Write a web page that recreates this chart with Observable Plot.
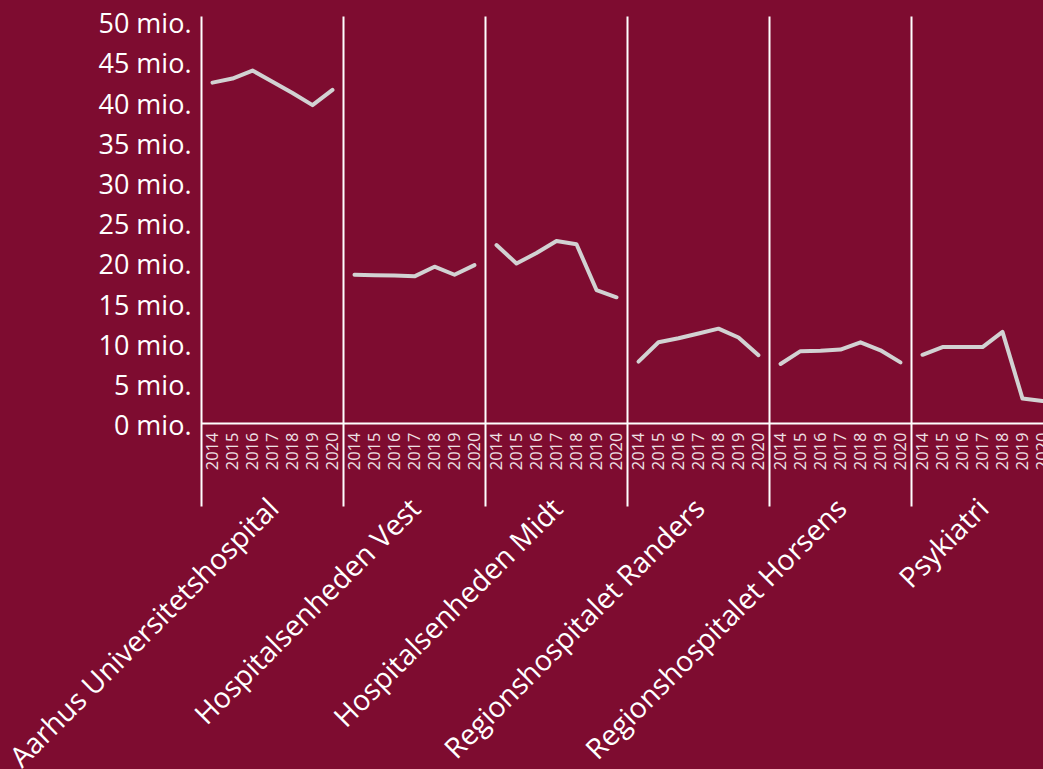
<!DOCTYPE html>
<html><head><meta charset="utf-8">
<script src="https://cdn.jsdelivr.net/npm/d3@7"></script>
<script src="https://cdn.jsdelivr.net/npm/@observablehq/plot@0.6"></script>
<style>
html,body{margin:0;padding:0;background:#7e0c30;overflow:hidden;}
#chart svg{display:block;max-width:none !important;}
</style></head><body><div id="chart"></div>
<script>
const hospitals = ["Aarhus Universitetshospital","Hospitalsenheden Vest","Hospitalsenheden Midt","Regionshospitalet Randers","Regionshospitalet Horsens","Psykiatri"];
const years = ["2014","2015","2016","2017","2018","2019","2020"];
const aarhus = [42.4, 42.9, 43.9, 42.5, 41.1, 39.6, 41.5];
const vest = [18.5, 18.45, 18.4, 18.3, 19.5, 18.5, 19.7];
const midt = [22.2, 19.9, 21.2, 22.7, 22.3, 16.6, 15.7];
const randers = [7.7, 10.1, 10.6, 11.2, 11.8, 10.7, 8.5];
const horsens = [7.4, 9.0, 9.05, 9.2, 10.1, 9.1, 7.6];
const psykiatri = [8.55, 9.5, 9.5, 9.5, 11.4, 3.1, 2.8];
const yTicks = [0, 5, 10, 15, 20, 25, 30, 35, 40, 45, 50];

const series = [aarhus, vest, midt, randers, horsens, psykiatri];
const data = hospitals.flatMap((h, i) => years.map((yr, j) => ({hospital: h, year: yr, value: series[i][j]})));

const chart = Plot.plot({
  width: 1053, height: 790,
  marginLeft: 201, marginRight: 0, marginTop: 21, marginBottom: 367,
  style: {background: "#7e0c30", color: "white", fontFamily: "'Open Sans', sans-serif", overflow: "visible", maxWidth: "none"},
  fx: {domain: hospitals, padding: 0, axis: null, label: null},
  x: {type: "point", domain: years, padding: 0, insetLeft: 9, insetRight: 10, axis: null, label: null},
  y: {domain: [0, 50], axis: null, label: null},
  marks: [
    Plot.axisY({ticks: yTicks, tickSize: 0, tickPadding: 10, tickFormat: d => `${d} mio.`, fontSize: 27, dy: 3, fill: "white", label: null}),
    Plot.axisX({tickRotate: -90, tickSize: 0, tickPadding: 9, fontSize: 16.5, fill: "#eee0e4", label: null}),
    Plot.frame({anchor: "left", stroke: "white", strokeWidth: 2, insetTop: -4, insetBottom: -82}),
    Plot.ruleY([0], {stroke: "white", strokeWidth: 2}),
    Plot.line(data, {fx: "hospital", x: "year", y: "value", stroke: "#d2d2d2", strokeWidth: 4}),
    Plot.text(hospitals, {fx: d => d, text: d => d, frameAnchor: "bottom", rotate: -45, textAnchor: "end", fontSize: 28.5, dx: 8, dy: 87, fill: "white"})
  ]
});
document.getElementById("chart").appendChild(chart);
</script>
</body></html>
